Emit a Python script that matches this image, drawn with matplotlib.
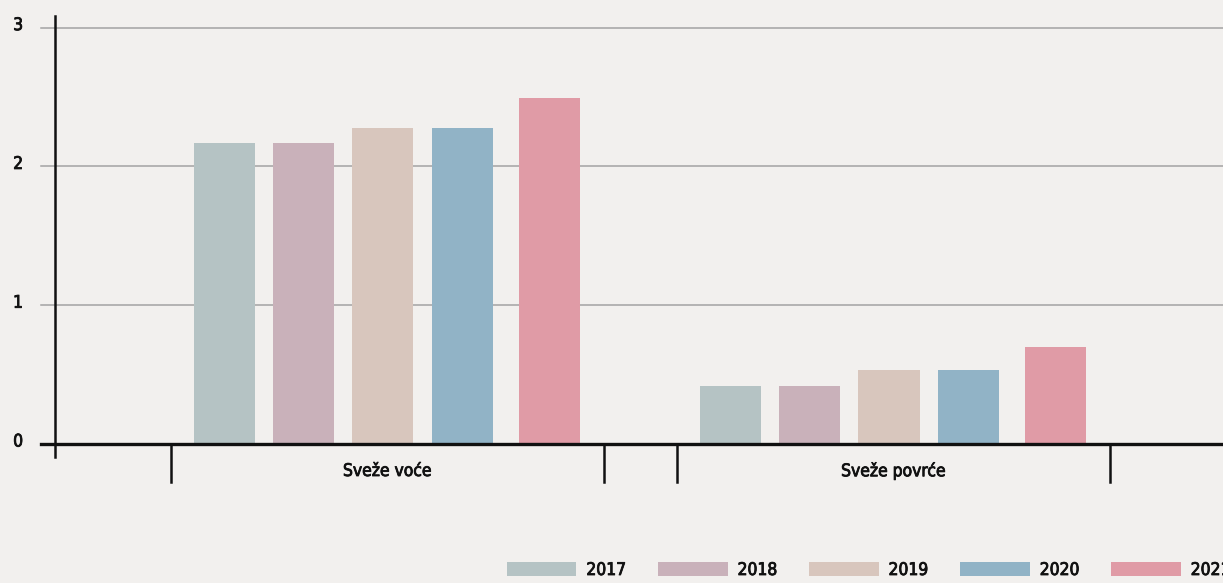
import matplotlib
matplotlib.use("Agg")
import matplotlib.pyplot as plt
from matplotlib.patches import Patch
import matplotlib.patheffects as pe
import matplotlib.transforms as mtransforms
import numpy as np

# Data
categories = ["Sveže voće", "Sveže povrće"]
years = ["2017", "2018", "2019", "2020", "2021"]
values_2017 = [2.17, 0.42]
values_2018 = [2.17, 0.42]
values_2019 = [2.28, 0.53]
values_2020 = [2.28, 0.53]
values_2021 = [2.49, 0.70]
yticks = [0, 1, 2, 3]

series = [values_2017, values_2018, values_2019, values_2020, values_2021]
colors = ["#b5c3c4", "#c9b1ba", "#d8c6bd", "#91b3c6", "#e09ba6"]

# Layout of bars within a group (in units of group spacing)
offsets = [-0.322, -0.166, -0.009, 0.148, 0.320]
bar_width = 0.1206
group_half = 0.428

bg = "#f2f0ee"
ink = "#111111"
plt.rcParams["font.family"] = ["DejaVu Sans"]
fsize = 12.5
# slightly heavier than regular weight
heavy = [pe.withStroke(linewidth=0.6, foreground=ink)]


def style_text(t):
    t.set_fontsize(fsize)
    t.set_fontstretch("condensed")
    t.set_color(ink)
    t.set_path_effects(heavy)


fig = plt.figure(figsize=(12.23, 5.83), dpi=100, facecolor=bg)
ax = fig.add_axes([55 / 1223, 139 / 583, 1 - 55 / 1223, 428 / 583])
ax.set_facecolor(bg)

x = np.arange(len(categories))
ax.set_xlim(-0.657, 1.651)
ax.set_ylim(0, 3.084)
px = 1 / 138.8  # one pixel in data units on the value axis

# Gridlines (extend slightly left of the axis)
for t in yticks[1:]:
    ax.axhline(t, xmin=-14 / 1168, xmax=1, color="#a3a3a3", lw=1.1,
               clip_on=False, zorder=1)

for vals, off, col in zip(series, offsets, colors):
    ax.bar(x + off, vals, width=bar_width, color=col, zorder=2)

# Zero baseline
ax.axhline(0, xmin=-14 / 1168, xmax=1, color=ink, lw=2.4,
           clip_on=False, zorder=4)

for s in ax.spines.values():
    s.set_visible(False)

# Vertical axis line, extending a little below zero
vtrans = mtransforms.blended_transform_factory(ax.transAxes, ax.transData)
ax.plot([0, 0], [-13 * px, ax.get_ylim()[1]], transform=vtrans,
        color=ink, lw=1.8, clip_on=False, zorder=5)

# Group separators and category labels
for xi, cat in zip(x, categories):
    for edge in (xi - group_half, xi + group_half):
        ax.plot([edge, edge], [0, -38 * px], color=ink, lw=1.8,
                clip_on=False, zorder=5)
    style_text(ax.text(xi, -27 * px, cat, ha="center", va="center"))

ax.set_xticks([])
ax.set_yticks(yticks)
ax.set_yticklabels([str(t) for t in yticks])
ax.tick_params(axis="y", length=0, pad=23)
shift = mtransforms.ScaledTranslation(0, 4.5 / 100, fig.dpi_scale_trans)
for lbl in ax.get_yticklabels():
    style_text(lbl)
    lbl.set_transform(lbl.get_transform() + shift)

handles = [Patch(facecolor=c, edgecolor="none") for c in colors]
leg = fig.legend(handles, years, loc="center left",
                 bbox_to_anchor=(507 / 1223, 13 / 583), ncol=5, frameon=False,
                 handlelength=4.0, handleheight=0.8, handletextpad=0.57,
                 columnspacing=1.85, borderpad=0, borderaxespad=0,
                 prop=dict(size=fsize, stretch="condensed"))
for t in leg.get_texts():
    style_text(t)

fig.savefig("out.png", dpi=100, facecolor=bg)
